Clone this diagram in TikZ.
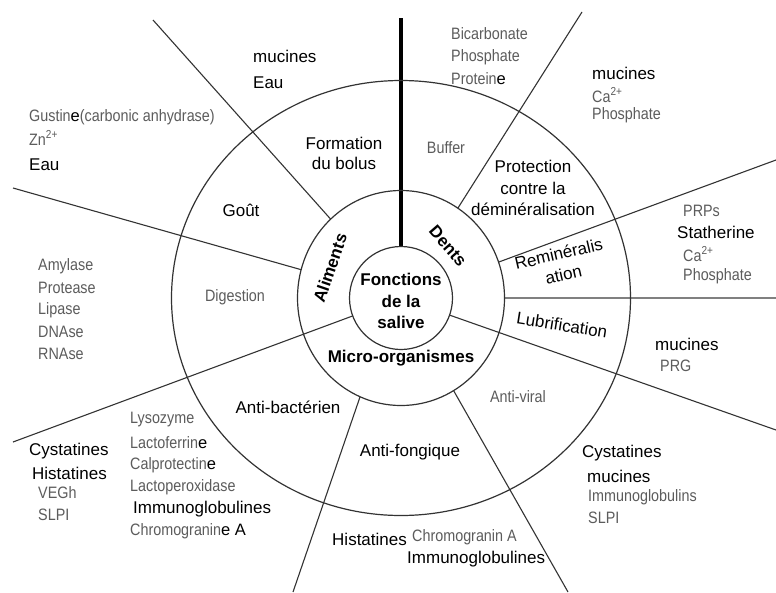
\documentclass[tikz,border=0pt]{standalone}
\usepackage{fontspec}
\setmainfont{Liberation Sans}
\newfontfamily\narrowsf[FakeStretch=0.87]{Liberation Sans}
\newcommand\darkpart[1]{{\normalfont\color{black}#1}}
\begin{document}
\begin{tikzpicture}[x=1pt,y=-1pt,
  every node/.style={inner sep=0pt, font=\fontsize{17}{20}\selectfont},
  wl/.style={anchor=west},
  gtx/.style={text=black!64, font=\narrowsf\fontsize{16.5}{18}\selectfont},
  bld/.style={font=\bfseries\fontsize{17}{21.5}\selectfont, align=center},
  spoke/.style={draw=black!80, line width=1.1pt},
  ring/.style={draw=black!80, line width=1.2pt}]
  \useasboundingbox[fill=white] (0,0) rectangle (776,592);
  \coordinate (c) at (401,298);
  \coordinate (c5) at (394,298);
  \draw[spoke] (c) -- (153,20);
  \draw[spoke] (c) -- (13,188);
  \draw[spoke] (c5) -- (293,592);
  \draw[spoke] (c) -- (568,592);
  \draw[spoke] (c) -- (776,160);
  \draw[spoke] (c) -- (582,12);
  \draw[spoke, draw=black!50] (c) -- (776,298);
  \fill[white] (c) ellipse [x radius=103.5pt, y radius=107.5pt];
  \draw[spoke] (c) -- (13,442);
  \draw[spoke] (c) -- (776,430);
  \draw[line width=3.4pt] (c) -- (401,18);
  \fill[white] (c) circle (51.5pt);
  \draw[ring] (c) ellipse [x radius=229.5pt, y radius=217.5pt];
  \draw[ring] (c) ellipse [x radius=103.5pt, y radius=107.5pt];
  \draw[ring] (c) circle (51.5pt);

  \node[bld] (centre) at (401,301) {Fonctions\\de la\\salive};
  \node[bld, rotate=71] (alim) at (330,268) {Aliments};
  \node[bld, rotate=-49] (dents) at (448,246) {Dents};
  \node[bld] (micro) at (401,358) {Micro-organismes};

  \node[align=center, font=\fontsize{17}{20}\selectfont] (bolus) at (344,153) {Formation\\du bolus};
  \node (gout) at (241,210) {Goût};
  \node[gtx] (digest) at (235,297) {Digestion};
  \node[gtx] (buffer) at (446,148) {Buffer};
  \node[align=center, font=\fontsize{17}{21.5}\selectfont] (protect) at (533,188) {Protection\\contre la\\déminéralisation};
  \node[align=center, rotate=13, font=\fontsize{17}{21}\selectfont] (remin) at (561,264) {Reminéralis\\ation};
  \node[rotate=-9] (lubri) at (562,325) {Lubrification};
  \node[gtx] (viral) at (518,397) {Anti-viral};
  \node (fong) at (410,452) {Anti-fongique};
  \node (bact) at (288,407) {Anti-bactérien};

  \node[wl] (mucA) at (253,56) {mucines};
  \node[wl] (eauA) at (253,83) {Eau};
  \node[wl, gtx] (gust) at (29,117) {Gustin\darkpart{e}(carbonic anhydrase)};
  \node[wl, gtx] (zn) at (29,138) {Zn\textsuperscript{2+}};
  \node[wl] (eauB) at (29,165) {Eau};

  \node[wl, gtx] (amyl) at (38,266) {Amylase};
  \node[wl, gtx] (prot) at (38,288) {Protease};
  \node[wl, gtx] (lip) at (38,310) {Lipase};
  \node[wl, gtx] (dna) at (38,332) {DNAse};
  \node[wl, gtx] (rna) at (38,354) {RNAse};

  \node[wl, gtx] (bicarb) at (451,34) {Bicarbonate};
  \node[wl, gtx] (phosA) at (451,57) {Phosphate};
  \node[wl, gtx] (prote) at (451,79) {Protein\darkpart{e}};

  \node[wl] (mucB) at (592,73) {mucines};
  \node[wl, gtx] (caA) at (592,95) {Ca\textsuperscript{2+}};
  \node[wl, gtx] (phosB) at (592,115) {Phosphate};

  \node[wl, gtx] (prps) at (683,211) {PRPs};
  \node[wl] (stath) at (677,232) {Statherine};
  \node[wl, gtx] (caB) at (683,254) {Ca\textsuperscript{2+}};
  \node[wl, gtx] (phosC) at (683,276) {Phosphate};

  \node[wl] (mucC) at (655,344) {mucines};
  \node[wl, gtx] (prg) at (660,366) {PRG};

  \node[wl] (cystA) at (582,453) {Cystatines};
  \node[wl] (mucD) at (587,476) {mucines};
  \node[wl, gtx] (immA) at (588,497) {Immunoglobulins};
  \node[wl, gtx] (slpiA) at (588,518) {SLPI};

  \node[wl] (histA) at (332,539) {Histatines};
  \node[wl, gtx] (chromA) at (412,537) {Chromogranin A};
  \node[wl] (immB) at (407,559) {Immunoglobulines};

  \node[wl, gtx] (lyso) at (130,420) {Lysozyme};
  \node[wl, gtx] (lacto) at (130,443) {Lactoferrin\darkpart{e}};
  \node[wl, gtx] (calpro) at (130,465) {Calprotectin\darkpart{e}};
  \node[wl, gtx] (lperox) at (130,487) {Lactoperoxidase};
  \node[wl] (immC) at (133,509) {Immunoglobulines};
  \node[wl, gtx] (chromB) at (130,531) {Chromogranin\darkpart{e A}};

  \node[wl] (cystB) at (29,451) {Cystatines};
  \node[wl] (histB) at (32,473) {Histatines};
  \node[wl, gtx] (vegh) at (38,493) {VEGh};
  \node[wl, gtx] (slpiB) at (38,515) {SLPI};
\end{tikzpicture}
\end{document}
